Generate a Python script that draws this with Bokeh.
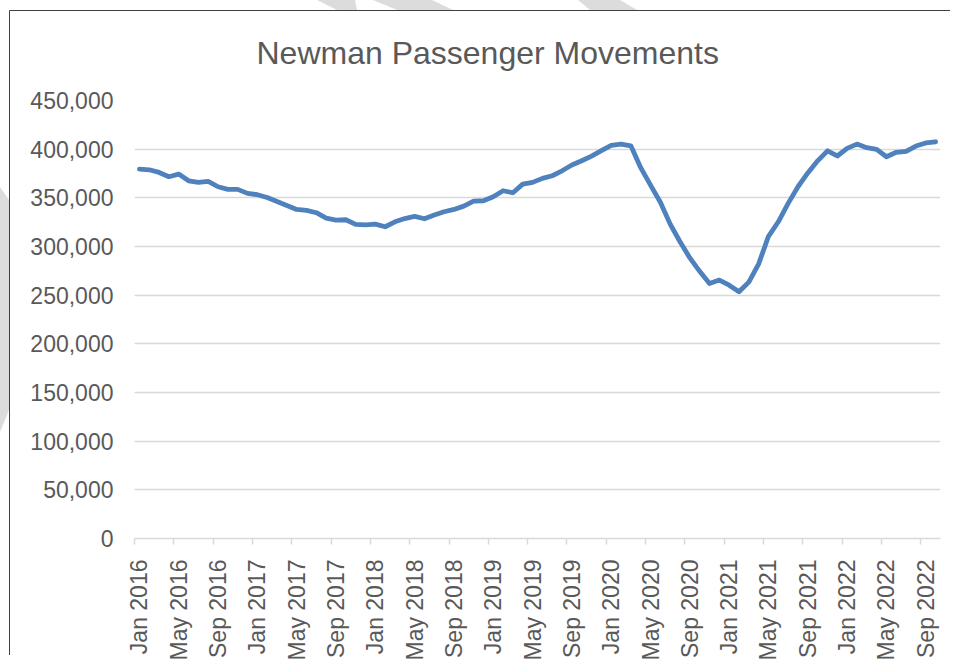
import math
from bokeh.plotting import figure
from bokeh.models import Range1d, FixedTicker, NumeralTickFormatter, InlineStyleSheet
from bokeh.embed import file_html
from bokeh.resources import INLINE

# ---------------- data ----------------
title_text = "Newman Passenger Movements"
start_year = 2016
month_names = ["Jan", "Feb", "Mar", "Apr", "May", "Jun",
               "Jul", "Aug", "Sep", "Oct", "Nov", "Dec"]
# monthly passenger movements, Jan 2016 .. Oct 2022
passengers = [
    379500, 378800, 376100, 371700, 374400, 367500, 365900, 366900, 361400, 358700, 358700, 354600,
    353200, 350400, 346300, 342200, 338100, 337100, 334700, 329200, 327100, 327500, 322700, 322300,
    323000, 320300, 325400, 328700, 330900, 328500, 332300, 335700, 338100, 341500, 346700, 347000,
    351100, 357300, 355200, 364100, 365900, 370000, 372700, 377800, 383700, 388100, 392900, 398500,
    404000, 405200, 403500, 381000, 363100, 345500, 323000, 304900, 288300, 274500, 262000, 265500,
    260300, 253500, 263400, 282200, 310500, 325400, 344300, 361400, 375600, 388000, 398300, 393000,
    400800, 405200, 401500, 399800, 392200, 396800, 397700, 403200, 406400, 407600,
]
month_labels = [f"{month_names[i % 12]} {start_year + i // 12}" for i in range(len(passengers))]
month_index = list(range(len(passengers)))
label_every = 4
y_ticks = [0, 50000, 100000, 150000, 200000, 250000, 300000, 350000, 400000, 450000]

# ---------------- figure ----------------
W, H = 955, 668
FL, FR, FT, FB = 134, 15, 100, 130   # borders around the plotting frame

p = figure(width=W, height=H, output_backend="svg", toolbar_location=None,
           x_range=Range1d(-0.5, len(passengers) - 0.5),
           y_range=Range1d(0, 450000),
           min_border_left=FL, min_border_right=FR,
           min_border_top=FT, min_border_bottom=FB)
p.background_fill_color = "white"
p.border_fill_color = "white"
p.outline_line_color = None

text_color = "#595959"
font = "Liberation Sans"
grid_color = "#d9d9d9"

# title
p.title.text = title_text
p.title.align = "left"
p.title.offset = 122
p.title.standoff = 60
p.title.text_font = font
p.title.text_font_size = "32px"
p.title.text_font_style = "normal"
p.title.text_color = text_color

# y axis
p.yaxis.ticker = FixedTicker(ticks=y_ticks)
p.yaxis.formatter = NumeralTickFormatter(format="0,0")
p.yaxis.axis_line_color = None
p.yaxis.major_tick_line_color = None
p.yaxis.minor_tick_line_color = None
p.yaxis.major_tick_out = 0
p.yaxis.major_tick_in = 0
p.yaxis.major_label_standoff = 21
p.yaxis.major_label_text_font = font
p.yaxis.major_label_text_font_size = "23px"
p.yaxis.major_label_text_color = text_color

# x axis: labels centred on months, tick marks between months
major = month_index[::label_every]
p.xaxis.ticker = FixedTicker(ticks=major, minor_ticks=[m - 0.5 for m in major])
p.xaxis.major_label_overrides = {m: month_labels[m] for m in major}
p.xaxis.major_label_orientation = math.pi / 2
p.xaxis.axis_line_color = grid_color
p.xaxis.axis_line_width = 1.5
p.xaxis.major_tick_line_color = None
p.xaxis.major_tick_out = 0
p.xaxis.major_tick_in = 0
p.xaxis.minor_tick_line_color = grid_color
p.xaxis.minor_tick_line_width = 1.5
p.xaxis.minor_tick_out = 6
p.xaxis.minor_tick_in = 0
p.xaxis.major_label_standoff = 15
p.xaxis.major_label_text_font = font
p.xaxis.major_label_text_font_size = "23px"
p.xaxis.major_label_text_color = text_color

p.xgrid.grid_line_color = None
p.ygrid.ticker = FixedTicker(ticks=y_ticks)
p.ygrid.grid_line_color = grid_color
p.ygrid.grid_line_width = 1.5

# data line
p.line(x=month_index, y=passengers, line_color="#4f81bd", line_width=4.8,
       line_join="round", line_cap="round")

# page decoration: chart border (top/left edges) and the faint watermark
# stripes that show outside it (kept inside a box smaller than the window)
deco_svg = (
    "<svg xmlns='http://www.w3.org/2000/svg' width='950' height='655'>"
    "<g fill='%23dcdcdc'>"
    "<polygon points='317,0 355,0 357,10 337,10'/>"
    "<polygon points='373,0 432,0 453,10 397,10'/>"
    "<polygon points='578,0 620,0 637,10 590,10'/>"
    "<polygon points='0,187 9,200 9,410 0,432'/>"
    "</g>"
    "<path d='M9.5 655 V10.5 H950' stroke='%23404040' stroke-width='1' fill='none'/>"
    "</svg>"
)
p.css_classes = ["chart-deco"]
p.stylesheets = [InlineStyleSheet(css=f"""
:host(.chart-deco)::after {{
  content: ""; position: absolute; left: 0; top: 0;
  width: 950px; height: 655px;
  background-image: url("data:image/svg+xml;utf8,{deco_svg}");
  background-repeat: no-repeat;
  pointer-events: none;
}}
""")]

open("out.html", "w").write(file_html(p, INLINE))
